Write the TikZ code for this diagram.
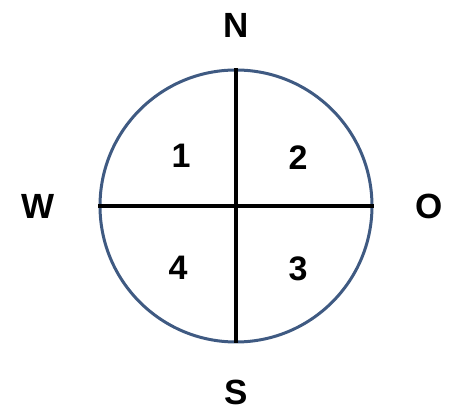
\documentclass[tikz,border=0pt]{standalone}
\usepackage{fontspec}
\setmainfont{Liberation Sans}
\usetikzlibrary{positioning}

\definecolor{rim}{HTML}{3F5A82}

\begin{document}
\begin{tikzpicture}[x=1pt, y=1pt, node distance=40pt,
  dir/.style={font=\fontsize{35}{38}\selectfont\bfseries, inner sep=0pt},
  num/.style={font=\fontsize{34}{37}\selectfont\bfseries, inner sep=0pt},
  axis/.style={line width=3.2pt, black}]
\useasboundingbox (-236,206) rectangle (214,-205);
\node[draw=rim, line width=3pt, circle, minimum size=272pt, inner sep=0pt] (rose) at (0,0) {};
\draw[axis] (rose.north) -- (rose.south);
\draw[axis] (rose.west) -- (rose.east);
% compass directions
\node[dir, above=31pt of rose] (north) {N};
\node[dir, below=36pt of rose] (south) {S};
\node[dir, left=44pt of rose] (west) {W};
\node[dir, right=42pt of rose] (east) {O};
% quadrants
\node[num] (q1) at (-55,50) {1};
\node[num] (q2) at (62,48) {2};
\node[num] (q3) at (62,-63) {3};
\node[num] (q4) at (-58,-62) {4};
\end{tikzpicture}
\end{document}
